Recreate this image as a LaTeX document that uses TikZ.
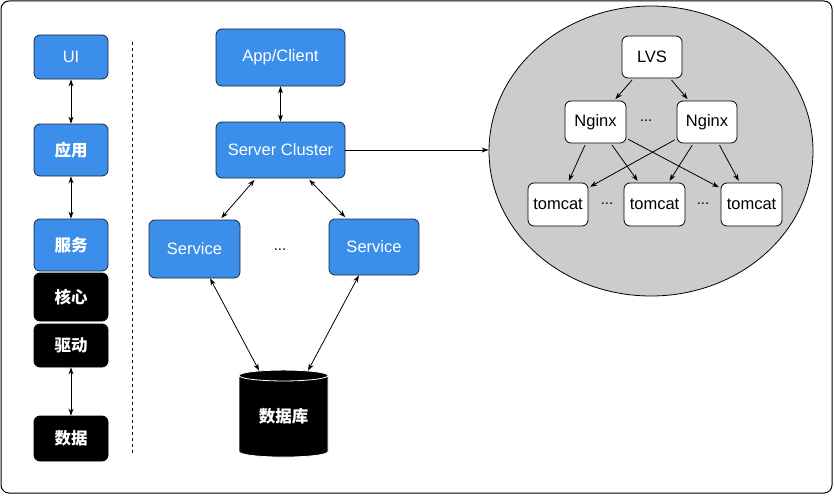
\documentclass[tikz,border=0pt]{standalone}
\usepackage{fontspec}
\setmainfont{Liberation Sans}
\newfontfamily\cjk{Noto Sans CJK SC}
\usepackage{tikz}
\usetikzlibrary{arrows.meta, shapes}

\definecolor{layerblue}{RGB}{59,142,234}
\definecolor{layerline}{RGB}{28,38,58}

\begin{document}
\begin{tikzpicture}[x=1pt, y=-1pt,
layer/.style={rectangle, rounded corners=6pt, draw=layerline, fill=layerblue,
text=white, inner sep=0pt, font=\fontsize{16.5}{19}\selectfont},
%
darklayer/.style={layer, fill=black, draw=black},
%
server/.style={rectangle, rounded corners=6pt, draw=black, fill=white,
inner sep=0pt, minimum width=60pt, minimum height=42pt,
font=\fontsize{16.5}{19}\selectfont},
%
store/.style={cylinder, shape border rotate=90, aspect=0.22, draw=white,
fill=black, text=white, inner sep=0pt},
%
link/.style={{Stealth[length=7pt,width=5pt]}-{Stealth[length=7pt,width=5pt]}},
%
dots/.style={inner sep=0pt, font=\fontsize{15}{17}\selectfont}]

\tikzset{every path/.style={line width=.8pt}}

\useasboundingbox (0,0) rectangle (834,495);
\draw [rounded corners=8pt, line width=1pt] (1,1) rectangle (832,493);

\begin{scope}
  %%%%%%%%%%%%%%%%%%%%%%%%%%%%%%
  \node [layer, minimum width=74pt, minimum height=44pt] (UI) at (71,57) {UI};
  \node [layer, minimum width=74pt, minimum height=52pt] (app) at (71,150) {\cjk\bfseries 应用};
  \node [layer, minimum width=74pt, minimum height=52pt] (service) at (71,245) {\cjk\bfseries 服务};
  \node [darklayer, minimum width=74pt, minimum height=48pt] (core) at (71,297) {\cjk\bfseries 核心};
  \node [darklayer, minimum width=74pt, minimum height=43pt] (driver) at (71,345.5) {\cjk\bfseries 驱动};
  \node [darklayer, minimum width=74pt, minimum height=45pt] (data) at (71,438.5) {\cjk\bfseries 数据};
  %%%%%%%%%%%%%%%%%%%%%%%%%%%%%%
  \coordinate (sepTop) at (132,42);
  \coordinate (sepBottom) at (132,453);
\end{scope}

\begin{scope}
  %%%%%%%%%%%%%%%%%%%%%%%%%%%%%%
  \node [layer, minimum width=129pt, minimum height=57pt] (client) at (280.5,57.5) {App/Client};
  \node [layer, minimum width=129pt, minimum height=56pt] (SC) at (280.5,150) {Server Cluster};
  \node [layer, minimum width=91pt, minimum height=58pt] (serviceL) at (194.5,249) {Service};
  \node [dots] (serviceDots) at (280,250) {...};
  \node [layer, minimum width=90pt, minimum height=56pt] (serviceR) at (374,247) {Service};
  %%%%%%%%%%%%%%%%%%%%%%%%%%%%%%
  \node [store, minimum width=89pt, minimum height=87pt] (DB) at (283.5,416.5)
  {\raisebox{-6pt}{\fontsize{16.5}{19}\selectfont\cjk\bfseries 数据库}};
\end{scope}

\begin{scope}
  %%%%%%%%%%%%%%%%%%%%%%%%%%%%%%
  \node [ellipse, draw=black, fill=gray!40, minimum width=324pt,
  minimum height=290pt, inner sep=0pt] (cluster) at (651,151) {};
  \node [server] (LVS) at (652,57) {LVS};
  \node [server, minimum width=61pt] (nginxL) at (595.5,122) {Nginx};
  \node [dots] (nginxDots) at (646,121) {...};
  \node [server] (nginxR) at (707,122) {Nginx};
  %%%%%%%%%%%%%%%%%%%%%%%%%%%%%%
  \node [server, minimum height=43pt] (tomcatL) at (558,204.5) {tomcat};
  \node [dots] (tomcatDotsL) at (607,204) {...};
  \node [server, minimum width=61pt, minimum height=43pt] (tomcatM) at (654.5,204.5) {tomcat};
  \node [dots] (tomcatDotsR) at (703,204) {...};
  \node [server, minimum width=61pt, minimum height=43pt] (tomcatR) at (751.5,204.5) {tomcat};
\end{scope}

\begin{scope}
  \draw [link] (UI) -- (app);
  \draw [link] (app) -- (service);
  \draw [link] (driver) -- (data);
  \draw [dashed, line width=.6pt] (sepTop) -- (sepBottom);
  %%%%%%%%%%%%%%%%%%%%%%%%%%%%%%
  \draw [link] (client) -- (SC);
  \draw [link, shorten <=2pt, shorten >=2pt] (SC) -- (serviceL);
  \draw [link, shorten <=2pt, shorten >=2pt] (SC) -- (serviceR);
  \draw [link] (serviceL) -- (DB);
  \draw [link] (serviceR) -- (DB);
  \draw [-{Stealth[length=7pt,width=5pt]}] (SC.east) -- (SC.east -| cluster.west);
  %%%%%%%%%%%%%%%%%%%%%%%%%%%%%%
  \foreach \nginx in {nginxL, nginxR}
    \draw [-{Stealth[length=7pt,width=5pt]}, shorten <=2pt, shorten >=2pt] (LVS) -- (\nginx);
  \foreach \nginx in {nginxL, nginxR}
    \foreach \tomcat in {tomcatL, tomcatM, tomcatR}
      \draw [-{Stealth[length=7pt,width=5pt]}, shorten <=2pt, shorten >=2pt] (\nginx) -- (\tomcat);
\end{scope}

\end{tikzpicture}
\end{document}
